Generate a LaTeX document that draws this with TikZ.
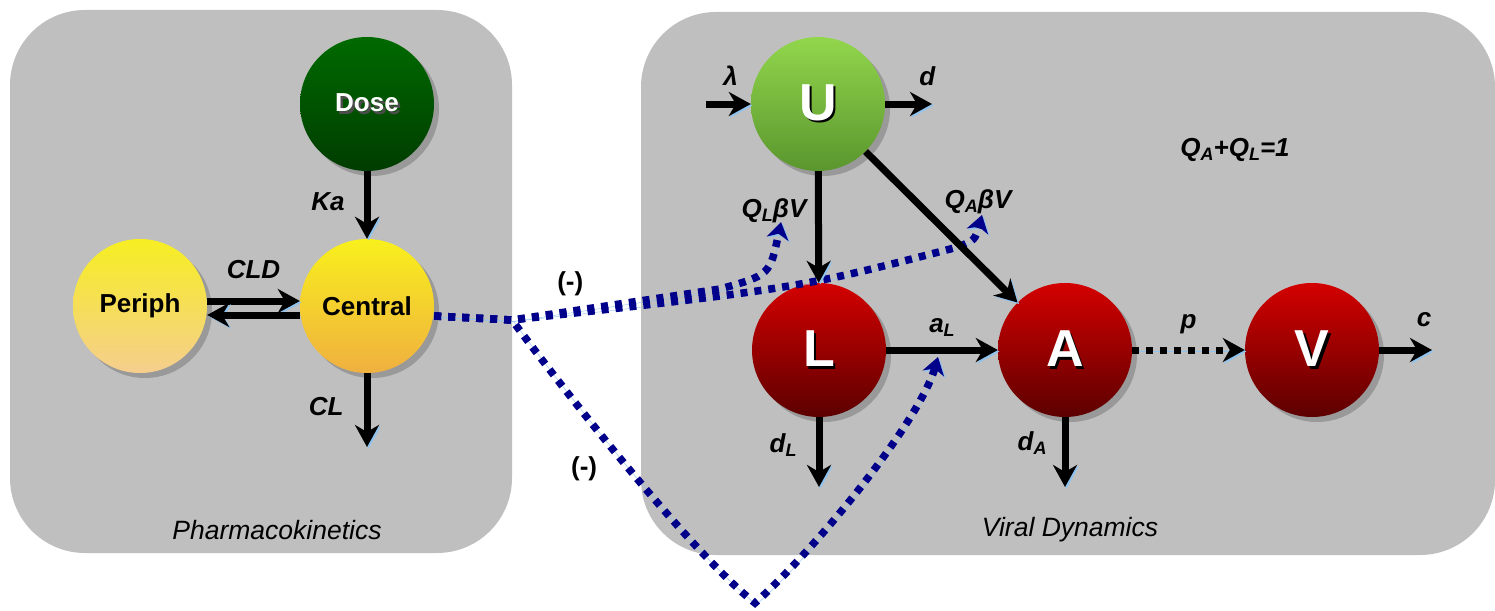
\documentclass[tikz,border=0pt]{standalone}
\usepackage{fontspec}
\setmainfont{Liberation Sans}
\usetikzlibrary{arrows.meta,positioning,shadows,calc}

\definecolor{panelgray}{HTML}{BFBFBF}
\definecolor{dotblue}{HTML}{00008A}
\definecolor{glowblue}{HTML}{8EC3F0}
\definecolor{doseTop}{HTML}{006A00}
\definecolor{doseBot}{HTML}{003C00}
\definecolor{centTop}{HTML}{F8F01C}
\definecolor{centBot}{HTML}{F0B040}
\definecolor{periTop}{HTML}{F6EE22}
\definecolor{periBot}{HTML}{F5CE8E}
\definecolor{uTop}{HTML}{92D64C}
\definecolor{uBot}{HTML}{5A962E}
\definecolor{redTop}{HTML}{D40000}
\definecolor{redBot}{HTML}{5C0000}

\newcommand{\sub}[1]{\raisebox{-0.3ex}{\fontsize{18}{18}\selectfont #1}}
\newcommand{\embossed}[2]{\makebox[0pt][l]{\hspace{2.5pt}\raisebox{-2.5pt}{\textcolor{#1}{#2}}}#2}

\begin{document}
\begin{tikzpicture}[x=1pt,y=-1pt,
  compartment/.style={circle,minimum size=134pt,inner sep=0pt,
    font=\fontsize{26}{30}\selectfont\bfseries,
    drop shadow={shadow xshift=5pt,shadow yshift=-5pt,fill=black!40,opacity=1}},
  bigletter/.style={font=\fontsize{52}{60}\selectfont\bfseries,text=white},
  glow/.style={preaction={draw=glowblue,transform canvas={xshift=1.5pt,yshift=-1.5pt}}},
  flow/.style={-{Stealth[length=22pt,width=24pt,inset=7pt]},line width=7pt,glow},
  inhib/.style={draw=dotblue,line width=7.5pt,dash pattern=on 7pt off 7pt,
    -{Stealth[length=17pt,width=22pt,inset=5pt]},glow},
  lbl/.style={font=\fontsize{26}{30}\selectfont\bfseries\itshape,inner sep=0pt},
  signlbl/.style={font=\fontsize{26}{30}\selectfont\bfseries,inner sep=0pt},
  panel/.style={fill=panelgray,rounded corners=75pt},
  paneltitle/.style={font=\fontsize{26.5}{30}\selectfont\itshape}
]
\useasboundingbox (0,0) rectangle (1495,610);

% panels
\fill[panel] (10,10) rectangle (512,553);
\fill[panel] (641,12) rectangle (1495,555);
\node[paneltitle] (pkTitle) at (277,530) {Pharmacokinetics};
\node[paneltitle] (vdTitle) at (1070,530) {Viral Dynamics};

% pharmacokinetics
\node[compartment,top color=doseTop,bottom color=doseBot,text=white] (Dose) at (367,104) {\embossed{black!70}{Dose}};
\node[compartment,top color=centTop,bottom color=centBot] (Central) at (367,306) {Central};
\node[compartment,top color=periTop,bottom color=periBot] (Periph) at (140,306) {Periph};

% viral dynamics
\node[compartment,bigletter,top color=uTop,bottom color=uBot] (U) at (818,104) {\embossed{black}{U}};
\node[compartment,bigletter,top color=redTop,bottom color=redBot] (L) at (819,350) {\embossed{black}{L}};
\node[compartment,bigletter,top color=redTop,bottom color=redBot] (A) at (1065,350) {\embossed{black}{A}};
\node[compartment,bigletter,top color=redTop,bottom color=redBot] (V) at (1312,350) {\embossed{black}{V}};

\coordinate (clEnd) at (367,447);
\coordinate (lamIn) at (706,104);
\coordinate (dEnd) at (932,104);
\coordinate (dLEnd) at (819,487);
\coordinate (dAEnd) at (1065,487);
\coordinate (cEnd) at (1432,350);
\coordinate (split) at (512,320);
\coordinate (qlTip) at (781,222);
\coordinate (qaTip) at (982,215);
\coordinate (alTip) at (938,357);
\coordinate (vBottom) at (755,603);

% drug effect
\draw[inhib] ([yshift=-10pt]Central.east) -- (split)
  -- node[signlbl,above=12pt,pos=0.28] {(-)} (720,289) .. controls (770,275) .. (qlTip)
  node[lbl,anchor=base,xshift=-7pt,yshift=5pt] {Q\sub{L}βV};
\draw[inhib] ([yshift=-10pt]Central.east) -- (split)
  .. controls (800,288) .. (958,247) .. controls (975,240) .. (qaTip)
  node[lbl,anchor=base,xshift=-4pt,yshift=7pt] {Q\sub{A}βV};
\draw[inhib] ([yshift=-10pt]Central.east) -- (split)
  .. controls (590,425) and (700,560) .. node[signlbl,left=28pt,pos=0.45] {(-)} (vBottom)
  .. controls (820,545) and (920,420) .. (alTip);

% pk flows
\draw[flow] (Dose) -- node[lbl,left=19pt,pos=0.45] {Ka} (Central);
\draw[flow] ([yshift=5pt]Periph.east) -- node[lbl,above=19pt] {CLD} ([yshift=5pt]Central.west);
\draw[flow] ([yshift=-9pt]Central.west) -- ([yshift=-9pt]Periph.east);
\draw[flow] (Central) -- node[lbl,left=20pt,pos=0.45] {CL} (clEnd);

% viral flows
\draw[flow] (lamIn) -- node[lbl,above=15pt,pos=0.55] {λ} (U);
\draw[flow] (U) -- node[lbl,above=15pt,pos=0.9] {d} (dEnd);
\draw[flow] (U) -- (L);
\draw[flow] (U.south east) -- (A.north west);
\draw[flow] (L) -- node[lbl,above=10pt] {a\sub{L}} (A);
\draw[flow] (L) -- node[lbl,left=19pt,pos=0.4] {d\sub{L}} (dLEnd);
\draw[flow] (A) -- node[lbl,left=15pt,pos=0.37] {d\sub{A}} (dAEnd);
\draw[flow,dash pattern=on 7pt off 7pt] (A) -- node[lbl,above=13pt] {p} (V);
\draw[flow] (V) -- node[lbl,above=20pt,pos=0.85] {c} (cEnd);

\node[lbl] (sumQ) at (1235,150) {Q\sub{A}+Q\sub{L}=1};
\end{tikzpicture}
\end{document}
